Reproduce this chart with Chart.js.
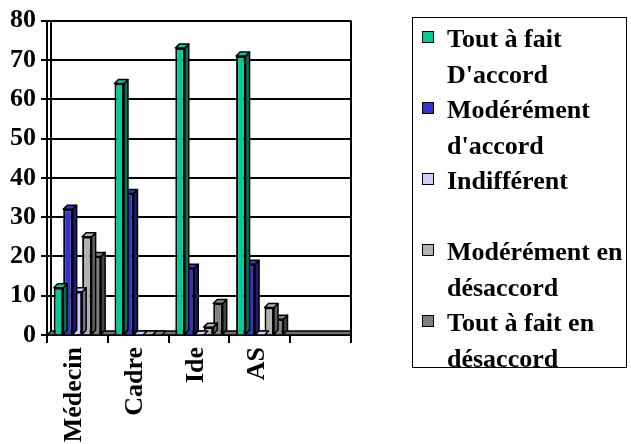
<!DOCTYPE html>
<html lang="fr">
<head>
<meta charset="utf-8">
<title>Opinion par catégorie professionnelle</title>
<script src="https://cdn.jsdelivr.net/npm/chart.js@4.4.1/dist/chart.umd.min.js"></script>
<style>
  html, body { margin: 0; padding: 0; background: #fff; }
  #wrap { position: relative; width: 631px; height: 444px; }
  #chart { position: absolute; left: 0; top: 0; }
  #legend {
    position: absolute; left: 412px; top: 17px; width: 213px; height: 346px;
    border: 1.5px solid #000; background: #fff;
    font-family: 'Liberation Serif', 'Times New Roman', serif;
    font-weight: bold; font-size: 26px; color: #000;
    padding-top: 3px;
  }
  #legend .item { position: relative; height: 71px; line-height: 35.5px; padding-left: 34px; }
  #legend .item .txt { width: 180px; white-space: normal; }
  #legend .item .sw {
    position: absolute; left: 9px; top: 10px; width: 10px; height: 10px;
    border: 1.5px solid #000;
  }
</style>
</head>
<body>
<div id="wrap">
  <canvas id="chart" width="631" height="444"></canvas>
  <div id="legend"></div>
</div>
<script>
// Categories on the horizontal axis (last slot left empty)
const categories = ['Médecin', 'Cadre', 'Ide', 'AS', ''];

// Answers per category
const toutAFaitDaccord    = [12, 64, 73, 71, null];
const moderementDaccord   = [32, 36, 17, 18, null];
const indifferent         = [11, 0, 0, 0, null];
const moderementDesaccord = [25, 0, 2, 7, null];
const toutAFaitDesaccord  = [20, 0, 8, 4, null];

// Vertical axis
const yMin = 0;
const yMax = 80;
const yStep = 10;

const seriesNames = [
  "Tout à fait D'accord",
  "Modérément d'accord",
  'Indifférent',
  'Modérément en désaccord',
  'Tout à fait en désaccord'
];
const seriesValues = [toutAFaitDaccord, moderementDaccord, indifferent, moderementDesaccord, toutAFaitDesaccord];
const seriesColors = ['#00CC99', '#3333CC', '#CCCCFF', '#B2B2B2', '#808080'];

const DEPTH = 4;

function shade(hex, f) {
  const n = parseInt(hex.slice(1), 16);
  const r = Math.round(((n >> 16) & 255) * f);
  const g = Math.round(((n >> 8) & 255) * f);
  const b = Math.round((n & 255) * f);
  return `rgb(${r},${g},${b})`;
}

// Floor, back wall and right frame of the plot box
const frame3d = {
  id: 'frame3d',
  beforeDatasetsDraw(chart) {
    const { ctx, chartArea: a } = chart;
    ctx.save();
    ctx.strokeStyle = '#000';
    ctx.lineWidth = 1.5;
    // floor
    ctx.fillStyle = '#6e6e6e';
    ctx.beginPath();
    ctx.moveTo(a.left, a.bottom);
    ctx.lineTo(a.left + DEPTH, a.bottom - DEPTH);
    ctx.lineTo(a.right, a.bottom - DEPTH);
    ctx.lineTo(a.right, a.bottom);
    ctx.closePath();
    ctx.fill();
    ctx.stroke();
    // back wall edge
    ctx.lineWidth = 2;
    ctx.beginPath();
    ctx.moveTo(a.left + DEPTH, a.top);
    ctx.lineTo(a.left + DEPTH, a.bottom - DEPTH);
    ctx.stroke();
    // right frame
    ctx.beginPath();
    ctx.moveTo(a.right, a.top);
    ctx.lineTo(a.right, a.bottom);
    ctx.stroke();
    ctx.restore();
  },
  // top and side faces of each bar, drawn right after its dataset
  afterDatasetDraw(chart, args) {
    const { ctx } = chart;
    const meta = args.meta;
    const color = seriesColors[args.index];
    ctx.save();
    ctx.strokeStyle = '#000';
    ctx.lineWidth = 1.5;
    ctx.lineJoin = 'round';
    meta.data.forEach((el, i) => {
      const v = chart.data.datasets[args.index].data[i];
      if (v === null || v === undefined) return;
      const p = el.getProps(['x', 'y', 'base', 'width'], true);
      const x0 = p.x - p.width / 2, x1 = p.x + p.width / 2;
      const yt = Math.min(p.y, p.base), yb = Math.max(p.y, p.base);
      // side face
      if (yb - yt > 0) {
        ctx.fillStyle = shade(color, 0.55);
        ctx.beginPath();
        ctx.moveTo(x1, yt);
        ctx.lineTo(x1 + DEPTH, yt - DEPTH);
        ctx.lineTo(x1 + DEPTH, yb - DEPTH);
        ctx.lineTo(x1, yb);
        ctx.closePath();
        ctx.fill();
        ctx.stroke();
      }
      // top face
      ctx.fillStyle = color;
      ctx.beginPath();
      ctx.moveTo(x0, yt);
      ctx.lineTo(x0 + DEPTH, yt - DEPTH);
      ctx.lineTo(x1 + DEPTH, yt - DEPTH);
      ctx.lineTo(x1, yt);
      ctx.closePath();
      ctx.fill();
      ctx.stroke();
    });
    ctx.restore();
  }
};

Chart.defaults.font.family = "'Liberation Serif', 'Times New Roman', serif";
Chart.defaults.font.size = 26;
Chart.defaults.font.weight = 'bold';
Chart.defaults.color = '#000';

const chart = new Chart(document.getElementById('chart'), {
  type: 'bar',
  data: {
    labels: categories,
    datasets: seriesNames.map((name, k) => ({
      label: name,
      data: seriesValues[k],
      backgroundColor: seriesColors[k],
      borderColor: '#000',
      borderWidth: 2,
      categoryPercentage: 0.78,
      barPercentage: 1.0
    }))
  },
  options: {
    responsive: false,
    animation: false,
    devicePixelRatio: 1,
    layout: { padding: { left: 0, top: 19, right: 280, bottom: 0 } },
    plugins: {
      legend: { display: false },
      tooltip: { enabled: false }
    },
    scales: {
      x: {
        offset: true,
        grid: { display: true, drawOnChartArea: false, drawTicks: true, tickLength: 8, offset: true, color: '#000', lineWidth: 2 },
        border: { display: true, color: '#000', width: 2 },
        ticks: { minRotation: 90, maxRotation: 90, padding: 4, autoSkip: false, labelOffset: -3 },
        afterFit(scale) { scale.height = 109; }
      },
      y: {
        min: yMin, max: yMax,
        grid: { color: '#000', lineWidth: 2, tickLength: 6 },
        border: { display: true, color: '#000', width: 2 },
        ticks: { stepSize: yStep, padding: 5 },
        afterFit(scale) { scale.width = 47; }
      }
    }
  },
  plugins: [frame3d]
});

// Legend box built from the chart's own datasets
const legendEl = document.getElementById('legend');
chart.data.datasets.forEach(ds => {
  const item = document.createElement('div');
  item.className = 'item';
  const sw = document.createElement('span');
  sw.className = 'sw';
  sw.style.background = ds.backgroundColor;
  const txt = document.createElement('div');
  txt.className = 'txt';
  txt.textContent = ds.label;
  item.appendChild(sw);
  item.appendChild(txt);
  legendEl.appendChild(item);
});
</script>
</body>
</html>
